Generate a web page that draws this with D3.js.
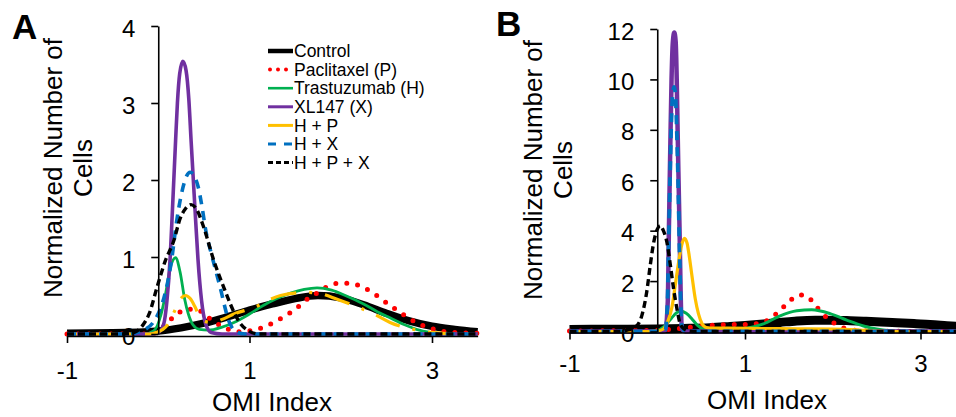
<!DOCTYPE html>
<html>
<head>
<meta charset="utf-8">
<script src="https://cdn.jsdelivr.net/npm/d3@7"></script>
<style>
  html, body { margin: 0; padding: 0; background: #fff; }
  svg { display: block; font-family: "Liberation Sans", Arial, sans-serif; }
</style>
</head>
<body>
<svg id="chart" width="956" height="417"></svg>
<script>
// ---- Data: OMI index distributions, [OMI index, normalized number of cells] ----
const seriesNames = ["Control", "Paclitaxel (P)", "Trastuzumab (H)", "XL147 (X)", "H + P", "H + X", "H + P + X"];
const xTicks = [-1, 1, 3];
const yTicksA = [0, 1, 2, 3, 4];
const yTicksB = [0, 2, 4, 6, 8, 10, 12];

// Panel A
const controlA = [[-1,0.01],[-0.5,0.015],[0,0.04],[0.25,0.08],[0.5,0.14],[0.75,0.22],[1,0.31],[1.25,0.39],[1.5,0.46],[1.75,0.5],[2,0.47],[2.25,0.38],[2.5,0.27],[2.75,0.17],[3,0.1],[3.25,0.06],[3.5,0.03]];
const paclitaxelA = [[-1,0],[-0.1,0],[0,0.03],[0.1,0.15],[0.2,0.25],[0.3,0.32],[0.42,0.32],[0.53,0.23],[0.64,0.14],[0.75,0.07],[0.86,0.03],[1,0.04],[1.11,0.07],[1.23,0.13],[1.34,0.2],[1.45,0.28],[1.55,0.37],[1.64,0.46],[1.75,0.54],[1.86,0.62],[1.98,0.66],[2.1,0.66],[2.22,0.62],[2.33,0.55],[2.44,0.46],[2.54,0.37],[2.64,0.29],[2.75,0.2],[2.86,0.13],[2.97,0.08],[3.09,0.04],[3.22,0.02],[3.5,0.01]];
const trastuzumabA = [[-1,0],[-0.15,0],[-0.05,0.04],[0.03,0.25],[0.08,0.52],[0.13,0.85],[0.19,0.99],[0.24,0.8],[0.29,0.45],[0.33,0.26],[0.38,0.12],[0.45,0.06],[0.55,0.05],[0.7,0.09],[0.83,0.15],[1,0.26],[1.15,0.37],[1.3,0.46],[1.45,0.53],[1.6,0.58],[1.74,0.6],[1.9,0.57],[2.05,0.5],[2.25,0.39],[2.4,0.29],[2.54,0.21],[2.7,0.12],[2.83,0.06],[2.98,0.02],[3.2,0],[3.5,0]];
const xl147A = [[-1,0],[-0.1,0],[0,0.02],[0.06,0.13],[0.095,0.43],[0.13,0.98],[0.15,1.47],[0.17,1.99],[0.19,2.51],[0.21,3.0],[0.235,3.38],[0.27,3.54],[0.305,3.42],[0.335,3.05],[0.36,2.51],[0.385,1.99],[0.41,1.47],[0.435,0.98],[0.475,0.43],[0.52,0.13],[0.58,0.02],[0.7,0],[3.5,0]];
const hpA = [[-1,0],[-0.2,0],[-0.1,0],[0,0.03],[0.05,0.06],[0.11,0.13],[0.18,0.3],[0.24,0.45],[0.3,0.5],[0.35,0.46],[0.4,0.36],[0.46,0.21],[0.52,0.16],[0.6,0.15],[0.7,0.19],[0.83,0.26],[1.04,0.34],[1.34,0.5],[1.63,0.54],[1.79,0.52],[1.96,0.45],[2.21,0.34],[2.38,0.25],[2.54,0.15],[2.8,0.06],[3.0,0.02],[3.3,0],[3.5,0]];
const hxA = [[-1,0],[-0.35,0],[-0.23,0.02],[-0.16,0.05],[-0.05,0.16],[0.03,0.35],[0.08,0.55],[0.15,0.99],[0.2,1.45],[0.26,1.85],[0.31,2.05],[0.35,2.1],[0.4,2.04],[0.44,1.9],[0.48,1.65],[0.52,1.35],[0.58,1.05],[0.64,0.78],[0.69,0.55],[0.73,0.35],[0.77,0.18],[0.81,0.08],[0.87,0.02],[0.95,0],[3.5,0]];
const hpxA = [[-1,0],[-0.4,0],[-0.3,0.01],[-0.23,0.04],[-0.16,0.13],[-0.1,0.26],[-0.015,0.6],[0.077,0.95],[0.17,1.21],[0.24,1.5],[0.3,1.63],[0.36,1.68],[0.42,1.62],[0.5,1.38],[0.61,0.95],[0.72,0.6],[0.79,0.39],[0.88,0.17],[0.99,0.04],[1.1,0],[3.5,0]];

// Panel B
const controlB = [[-1,0.08],[-0.5,0.09],[0,0.1],[0.3,0.12],[0.6,0.15],[0.83,0.2],[1.0,0.24],[1.21,0.3],[1.4,0.36],[1.59,0.42],[1.8,0.45],[1.97,0.45],[2.2,0.43],[2.35,0.41],[2.55,0.38],[2.73,0.35],[2.95,0.31],[3.11,0.28],[3.3,0.23],[3.5,0.18]];
const paclitaxelB = [[-1,0.02],[-0.5,0.03],[0,0.05],[0.2,0.1],[0.36,0.16],[0.6,0.24],[0.8,0.27],[1.0,0.28],[1.14,0.31],[1.26,0.45],[1.36,0.71],[1.46,1.04],[1.55,1.33],[1.63,1.45],[1.7,1.42],[1.78,1.14],[1.86,0.8],[1.96,0.47],[2.07,0.22],[2.18,0.09],[2.3,0.03],[2.5,0.01],[3.5,0]];
const trastuzumabB = [[-1,0],[-0.1,0],[0,0.04],[0.08,0.2],[0.16,0.52],[0.22,0.74],[0.27,0.8],[0.33,0.72],[0.4,0.48],[0.46,0.24],[0.52,0.1],[0.6,0.06],[0.8,0.07],[1.02,0.13],[1.21,0.3],[1.4,0.62],[1.59,0.82],[1.76,0.86],[1.97,0.71],[2.16,0.45],[2.35,0.22],[2.5,0.1],[2.65,0.03],[2.8,0],[3.5,0]];
const xl147B = [[-1,0],[0.06,0],[0.09,0.05],[0.12,1.2],[0.133,4.07],[0.142,6],[0.152,8],[0.163,10],[0.178,11.5],[0.194,11.86],[0.21,11.5],[0.222,10],[0.232,8],[0.243,6],[0.254,4.07],[0.267,1.5],[0.28,0.1],[0.32,0],[3.5,0]];
const hpB = [[-1,0],[-0.2,0],[0,0.02],[0.07,0.1],[0.12,0.4],[0.167,0.95],[0.205,1.83],[0.25,2.9],[0.28,3.45],[0.31,3.7],[0.34,3.5],[0.36,3.1],[0.395,2.22],[0.433,1.3],[0.47,0.7],[0.51,0.32],[0.56,0.16],[0.65,0.13],[0.8,0.13],[1.2,0.12],[1.6,0.11],[2.0,0.1],[2.3,0.06],[2.5,0.02],[2.7,0],[3.5,0]];
const hxB = [[-1,0],[0.05,0],[0.09,0.05],[0.115,1.0],[0.13,3.5],[0.145,6],[0.16,8.2],[0.178,9.5],[0.192,9.7],[0.207,9.4],[0.222,8],[0.237,6],[0.25,3.8],[0.265,1.5],[0.28,0.2],[0.32,0],[3.5,0]];
const hpxB = [[-1,0],[-0.45,0],[-0.35,0.05],[-0.25,0.18],[-0.175,0.64],[-0.12,1.57],[-0.08,2.62],[-0.04,3.54],[0.0,4.05],[0.034,4.2],[0.07,4.0],[0.11,3.54],[0.15,2.62],[0.186,1.7],[0.224,0.91],[0.26,0.32],[0.3,0.12],[0.36,0.02],[0.45,0],[3.5,0]];

// ---- Line styles (drawing order = legend order) ----
const styleA = [
  { color: "#000000", width: 7.5, dash: null, cap: "butt" },
  { color: "#FF0000", width: 5,   dash: "0,11", cap: "round" },
  { color: "#00B050", width: 2.8, dash: null, cap: "butt" },
  { color: "#7030A0", width: 3.6, dash: null, cap: "butt" },
  { color: "#FFC000", width: 3.2, dash: "26,13,3,13", offset: 32, cap: "butt" },
  { color: "#0070C0", width: 3.6, dash: "9,7", cap: "butt" },
  { color: "#000000", width: 3.4, dash: "7,4", cap: "butt" }
];
const styleB = [
  { color: "#000000", width: 9,   dash: null, cap: "butt" },
  { color: "#FF0000", width: 5,   dash: "0,11", cap: "round" },
  { color: "#00B050", width: 3,   dash: null, cap: "butt" },
  { color: "#7030A0", width: 4.5, dash: null, cap: "butt" },
  { color: "#FFC000", width: 3.2, dash: null, cap: "butt" },
  { color: "#0070C0", width: 3.8, dash: "9,7", cap: "butt" },
  { color: "#000000", width: 3.4, dash: "7,4", cap: "butt" }
];
const legendStyle = [
  { color: "#000000", width: 4.5, dash: null, cap: "butt" },
  { color: "#FF0000", width: 4,   dash: "0,8", cap: "round" },
  { color: "#00B050", width: 2.6, dash: null, cap: "butt" },
  { color: "#7030A0", width: 3,   dash: null, cap: "butt" },
  { color: "#FFC000", width: 3,   dash: null, cap: "butt" },
  { color: "#0070C0", width: 3,   dash: "8,8", cap: "butt" },
  { color: "#000000", width: 3,   dash: "5,3", cap: "butt" }
];

const svg = d3.select("#chart");

function drawPanel(cfg) {
  const g = svg.append("g");
  const x = d3.scaleLinear().domain([-1, 3.5]).range(cfg.xRange);
  const y = d3.scaleLinear().domain([0, cfg.yMax]).range(cfg.yRange);

  // distribution curves
  const line = d3.line().x(d => x(d[0])).y(d => y(d[1])).curve(d3.curveMonotoneX);
  cfg.series.forEach((s, i) => {
    const st = cfg.styles[i];
    g.append("path")
      .datum(s)
      .attr("d", line)
      .attr("fill", "none")
      .attr("stroke", st.color)
      .attr("stroke-width", st.width)
      .attr("stroke-linecap", st.cap)
      .attr("stroke-linejoin", "round")
      .attr("stroke-dasharray", st.dash)
      .attr("stroke-dashoffset", st.offset || 0);
  });

  // x axis
  const xAxis = g.append("g")
    .attr("transform", `translate(0,${y(0) + cfg.xAxisShift})`)
    .call(d3.axisBottom(x).tickValues(xTicks).tickSize(7).tickSizeOuter(0)
      .tickPadding(cfg.xPad).tickFormat(d3.format("d")));
  // y axis
  const yAxis = g.append("g")
    .attr("transform", `translate(${x(0)},0)`)
    .call(d3.axisLeft(y).tickValues(cfg.yTicks).tickSize(7).tickSizeOuter(0)
      .tickPadding(16).tickFormat(d3.format("d")));

  [xAxis, yAxis].forEach(a => {
    a.select(".domain").attr("stroke", "#000").attr("stroke-width", 1.6);
    a.selectAll(".tick line").attr("stroke", "#000").attr("stroke-width", 1.6);
    a.selectAll(".tick text").attr("fill", "#000").style("font-size", "24px")
      .style("font-family", '"Liberation Sans", Arial, sans-serif');
  });
  yAxis.selectAll(".tick text").attr("dy", "0.42em");
  xAxis.selectAll(".tick text").text(d => d < 0 ? "-" + Math.abs(d) : d);

  // axis titles
  g.append("text").attr("x", cfg.xTitle[0]).attr("y", cfg.xTitle[1])
    .attr("text-anchor", "middle").style("font-size", "26px").text("OMI Index");
  g.append("text").attr("transform", `translate(${cfg.yTitle[0]},${cfg.yTitle[2]}) rotate(-90)`)
    .attr("text-anchor", "middle").style("font-size", "26px").text("Normalized Number of");
  g.append("text").attr("transform", `translate(${cfg.yTitle[1]},${cfg.yTitle[2]}) rotate(-90)`)
    .attr("text-anchor", "middle").style("font-size", "26px").text("Cells");

  // panel letter
  g.append("text").attr("x", cfg.letterPos[0]).attr("y", cfg.letterPos[1])
    .style("font-size", "35px").style("font-weight", "bold").text(cfg.letter);
  return { x, y, g };
}

drawPanel({
  series: [controlA, paclitaxelA, trastuzumabA, xl147A, hpA, hxA, hpxA],
  styles: styleA,
  xRange: [67, 67 + 4.5 * 91.25],
  yMax: 4, yRange: [334, 26], yTicks: yTicksA,
  xAxisShift: 2, xPad: 19,
  xTitle: [272, 411], yTitle: [62, 92, 168],
  letter: "A", letterPos: [12, 39]
});

drawPanel({
  series: [controlB, paclitaxelB, trastuzumabB, xl147B, hpB, hxB, hpxB],
  styles: styleB,
  xRange: [569.5, 569.5 + 4.5 * 87.75],
  yMax: 12, yRange: [331.5, 29], yTicks: yTicksB,
  xAxisShift: 1, xPad: 15,
  xTitle: [767, 409], yTitle: [542, 572, 170],
  letter: "B", letterPos: [496, 36]
});

// legend (panel A)
const legend = svg.append("g").attr("transform", "translate(268,51)");
seriesNames.forEach((name, i) => {
  const st = legendStyle[i];
  const row = legend.append("g").attr("transform", `translate(0,${i * 18.6})`);
  row.append("line")
    .attr("x1", st.cap === "round" ? 2 : 0).attr("x2", 25).attr("y1", 0).attr("y2", 0)
    .attr("stroke", st.color).attr("stroke-width", st.width)
    .attr("stroke-linecap", st.cap).attr("stroke-dasharray", st.dash);
  row.append("text").attr("x", 26).attr("y", 0).attr("dy", "0.35em")
    .style("font-size", "17.5px").text(name);
});
</script>
</body>
</html>
